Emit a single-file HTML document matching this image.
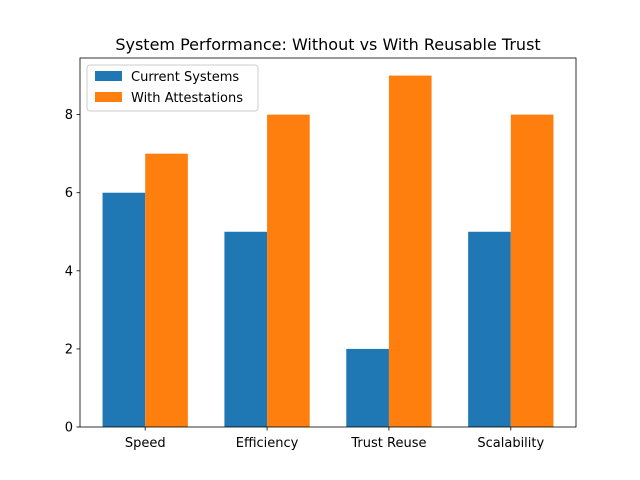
<!DOCTYPE html>
<html><head><meta charset="utf-8"><style>
html,body{margin:0;padding:0;background:#fff;}
svg{display:block;font-family:"DejaVu Sans","Liberation Sans",sans-serif;}
</style></head><body>
<svg id="chart" width="640" height="480" viewBox="0 0 640 480">
<rect width="640" height="480" fill="#fff"/>
<text x="328" y="50" text-anchor="middle" font-size="16" fill="#000">System Performance: Without vs With Reusable Trust</text>
<g id="bars"></g>
<g id="axes"></g>
<g>
<rect x="87" y="65" width="171" height="46" rx="3" fill="#fff" fill-opacity="0.8" stroke="#ccc"/>
<rect x="95" y="71" width="27" height="10" fill="#1f77b4"/>
<text x="131" y="81" font-size="13">Current Systems</text>
<rect x="95" y="92" width="27" height="10" fill="#ff7f0e"/>
<text x="131" y="102" font-size="13">With Attestations</text>
</g>
</svg>
<script>
const categories = ["Speed","Efficiency","Trust Reuse","Scalability"];
const currentSystems = [6,5,2,5];
const withAttestations = [7,8,9,8];
const yTicks = [0,2,4,6,8];

const NS="http://www.w3.org/2000/svg";
const L=80,R=576,T=58,B=427;
const xMin=-0.535,xMax=3.535,yMax=9.45,bw=0.35;
const xs=v=>L+(v-xMin)/(xMax-xMin)*(R-L);
const ys=v=>B-v/yMax*(B-T);
function mk(tag,attrs,parent){const e=document.createElementNS(NS,tag);for(const k in attrs)e.setAttribute(k,attrs[k]);parent.appendChild(e);return e;}
const bars=document.getElementById('bars'),axes=document.getElementById('axes');
categories.forEach((c,i)=>{
  let r=mk('rect',{x:xs(i-bw),y:ys(currentSystems[i]),width:xs(i)-xs(i-bw),height:ys(0)-ys(currentSystems[i]),fill:'#1f77b4'},bars);
  
  
  let r2=mk('rect',{x:xs(i),y:ys(withAttestations[i]),width:xs(i+bw)-xs(i),height:ys(0)-ys(withAttestations[i]),fill:'#ff7f0e'},bars);
  
  
  mk('line',{x1:xs(i),x2:xs(i),y1:B,y2:B+3.5,stroke:'#000','stroke-width':0.8},axes);
  let t=mk('text',{x:xs(i),y:B+20,'text-anchor':'middle','font-size':13},axes);
  t.textContent=c;
  
  
});
yTicks.forEach(v=>{
  mk('line',{x1:L-3.5,x2:L,y1:ys(v),y2:ys(v),stroke:'#000','stroke-width':0.8},axes);
  let t=mk('text',{x:L-7,y:ys(v)+4.5,'text-anchor':'end','font-size':13},axes);
  t.textContent=v;
  
  
});
const fr=mk('rect',{x:L,y:T,width:R-L,height:B-T,fill:'none',stroke:'#000','stroke-width':0.8},axes);


</script>
</body></html>
